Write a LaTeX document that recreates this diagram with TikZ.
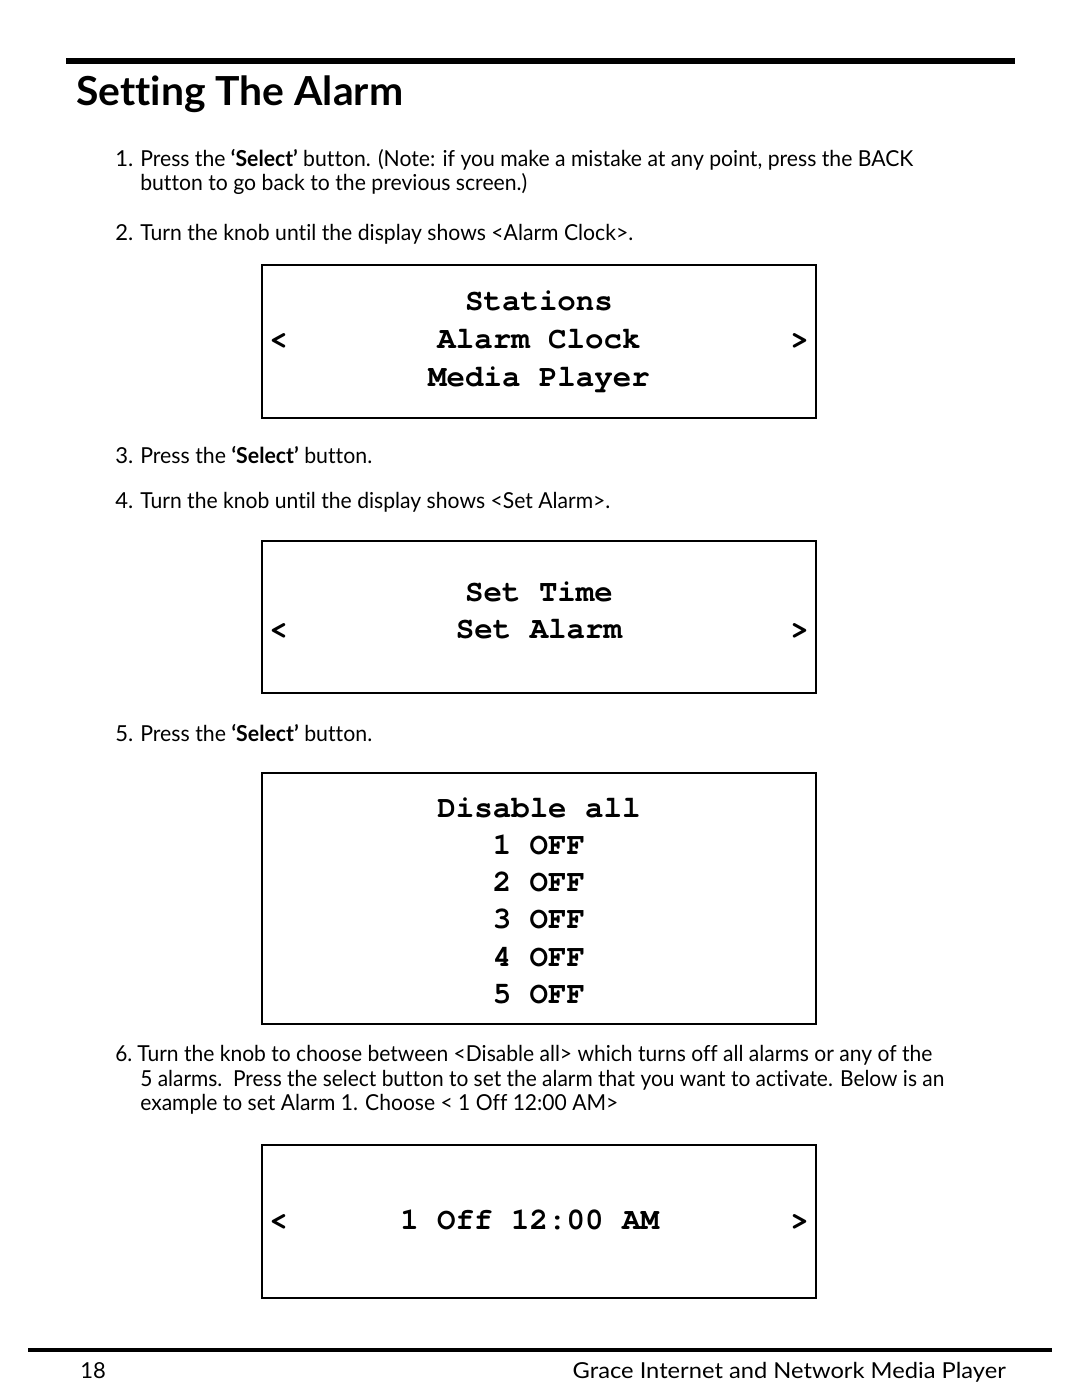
\documentclass[tikz,border=0pt]{standalone}
\usepackage{fontspec}
\usepackage{graphicx}
\setmainfont{Lato}[Ligatures={NoCommon,NoRare,NoDiscretionary}]
\newfontfamily\lcdfont{TeX Gyre Cursor}[Ligatures={NoCommon,NoRare,NoDiscretionary}]
\newsavebox\fitbox
\newcommand\fitto[2]{\sbox\fitbox{#2}\pgfmathsetmacro\fitfac{#1*0.75/\the\wd\fitbox}\scalebox{\fitfac}[1]{\usebox\fitbox}}
\tikzset{
  body/.style={inner sep=0pt, anchor=base west, font=\fontsize{16.5}{20}\selectfont},
  lcd/.style={inner sep=0pt, anchor=base, font=\lcdfont\bfseries\fontsize{23.1}{28}\selectfont},
  lcdw/.style={inner sep=0pt, anchor=base west, font=\lcdfont\bfseries\fontsize{23.1}{28}\selectfont},
  screen/.style={draw=black, line width=2.2pt},
}
\begin{document}
\begin{tikzpicture}[x=0.75pt,y=-0.75pt]
\useasboundingbox (0,0) rectangle (1080,1397);
% header
\draw[line width=4.5pt] (66,61) -- (1015,61);
\node[inner sep=0pt, anchor=base west, font=\bfseries\fontsize{30}{36}\selectfont] (title) at (76,105) {\fitto{327}{Setting The Alarm}};
% step 1, 2
\node[body] (n1) at (115,166) {1.};
\node[body] (t1) at (140,166) {\fitto{773}{Press the \textbf{‘Select’} button. (Note: if you make a mistake at any point, press the BACK}};
\node[body] (t1b) at (140,190) {\fitto{387}{button to go back to the previous screen.)}};
\node[body] (n2) at (115,240) {2.};
\node[body] (t2) at (140,240) {\fitto{493}{Turn the knob until the display shows <Alarm Clock>.}};
% screen 1
\draw[screen] (262,265) rectangle (816,418);
\node[lcd] (s1a) at (539,310) {Stations};
\node[lcd] (s1b) at (539,348) {Alarm Clock};
\node[lcd] (s1c) at (539,386) {Media Player};
\node[lcdw] (s1l) at (269,348) {<};
\node[lcdw] (s1r) at (790,348) {>};
% step 3, 4
\node[body] (n3) at (115,463) {3.};
\node[body] (t3) at (140,463) {\fitto{232}{Press the \textbf{‘Select’} button.}};
\node[body] (n4) at (115,508) {4.};
\node[body] (t4) at (140,508) {\fitto{470}{Turn the knob until the display shows <Set Alarm>.}};
% screen 2
\draw[screen] (262,541) rectangle (816,693);
\node[lcd] (s2a) at (539,601) {Set Time};
\node[lcd] (s2b) at (539,638) {Set Alarm};
\node[lcdw] (s2l) at (269,638) {<};
\node[lcdw] (s2r) at (790,638) {>};
% step 5
\node[body] (n5) at (115,741) {5.};
\node[body] (t5) at (140,741) {\fitto{232}{Press the \textbf{‘Select’} button.}};
% screen 3
\draw[screen] (262,773) rectangle (816,1024);
\node[lcd] (s3a) at (539,817) {Disable all};
\node[lcd] (s3b) at (539,854) {1 OFF};
\node[lcd] (s3c) at (539,891) {2 OFF};
\node[lcd] (s3d) at (539,928) {3 OFF};
\node[lcd] (s3e) at (539,966) {4 OFF};
\node[lcd] (s3f) at (539,1003) {5 OFF};
% step 6
\node[body] (n6) at (115,1061) {\fitto{17}{6.}};
\node[body] (t6a) at (137,1061) {\fitto{795}{Turn the knob to choose between <Disable all> which turns off all alarms or any of the}};
\node[body] (t6b) at (140,1086) {\fitto{804}{5 alarms.\ \ Press the select button to set the alarm that you want to activate. Below is an}};
\node[body] (t6c) at (140,1110) {\fitto{478}{example to set Alarm 1. Choose < 1 Off 12:00 AM>}};
% screen 4
\draw[screen] (262,1145) rectangle (816,1298);
\node[lcdw] (s4a) at (400,1229) {1 Off 12:00 AM};
\node[lcdw] (s4l) at (269,1229) {<};
\node[lcdw] (s4r) at (790,1229) {>};
% footer
\draw[line width=3pt] (28,1350) -- (1052,1350);
\node[body] (pg) at (80,1378) {18};
\node[inner sep=0pt, anchor=base east, font=\fontsize{16.5}{20}\selectfont] (ft) at (1006,1378) {\fitto{433}{Grace Internet and Network Media Player}};
\end{tikzpicture}
\end{document}
